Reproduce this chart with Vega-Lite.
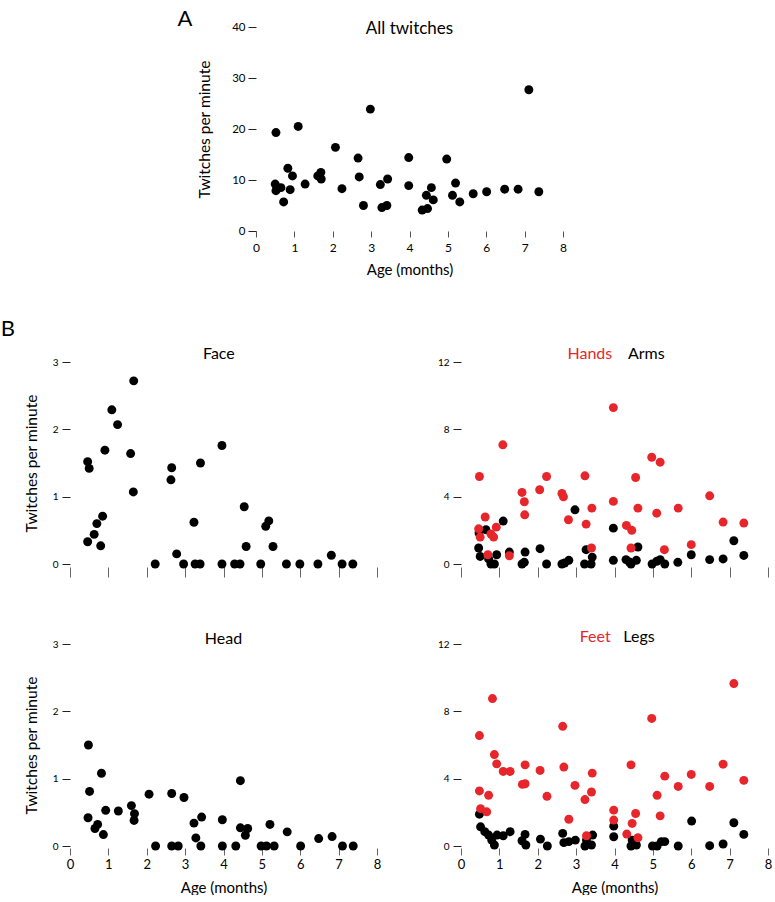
{
  "$schema": "https://vega.github.io/schema/vega-lite/v6.json",
  "padding": {"left": 0, "top": 8, "right": 0, "bottom": 0},
  "background": "white",
  "config": {
    "view": {"stroke": null},
    "font": "Lato",
    "axis": {"grid": false, "domain": false, "labelFlush": false, "labelOverlap": false, "labelColor": "#000", "titleColor": "#000", "titleFontWeight": "normal", "labelFont": "Lato", "titleFont": "Lato", "format": "d"},
    "text": {"font": "Lato", "color": "#000"}
  },
  "datasets": {
    "all": [
      {"age":0.52,"rate":19.3},{"age":0.50,"rate":9.2},{"age":0.52,"rate":7.9},{"age":0.65,"rate":8.5},{"age":0.72,"rate":5.7},{"age":0.83,"rate":12.3},{"age":0.89,"rate":8.1},{"age":0.95,"rate":10.8},{"age":1.10,"rate":20.5},{"age":1.28,"rate":9.2},{"age":1.61,"rate":10.8},{"age":1.69,"rate":11.5},{"age":1.70,"rate":10.2},{"age":2.07,"rate":16.4},{"age":2.24,"rate":8.3},{"age":2.66,"rate":14.3},{"age":2.69,"rate":10.6},{"age":2.80,"rate":5.0},{"age":2.98,"rate":23.9},{"age":3.24,"rate":9.1},{"age":3.28,"rate":4.6},{"age":3.41,"rate":5.0},{"age":3.43,"rate":10.2},{"age":3.98,"rate":14.4},{"age":3.98,"rate":8.9},{"age":4.33,"rate":4.1},{"age":4.47,"rate":4.4},{"age":4.44,"rate":7.0},{"age":4.57,"rate":8.5},{"age":4.62,"rate":6.1},{"age":4.97,"rate":14.1},{"age":5.12,"rate":7.0},{"age":5.20,"rate":9.4},{"age":5.31,"rate":5.7},{"age":5.66,"rate":7.3},{"age":6.01,"rate":7.7},{"age":6.48,"rate":8.2},{"age":6.83,"rate":8.2},{"age":7.11,"rate":27.7},{"age":7.37,"rate":7.7}
    ],
    "face": [
      {"age":0.46,"rate":1.52},{"age":0.50,"rate":1.42},{"age":0.46,"rate":0.33},{"age":0.63,"rate":0.44},{"age":0.70,"rate":0.60},{"age":0.80,"rate":0.27},{"age":0.85,"rate":0.71},{"age":0.91,"rate":1.69},{"age":1.09,"rate":2.29},{"age":1.24,"rate":2.07},{"age":1.58,"rate":1.64},{"age":1.66,"rate":2.72},{"age":1.65,"rate":1.07},{"age":2.22,"rate":0},{"age":2.63,"rate":1.25},{"age":2.65,"rate":1.43},{"age":2.78,"rate":0.15},{"age":2.96,"rate":0},{"age":3.23,"rate":0.62},{"age":3.26,"rate":0},{"age":3.39,"rate":0},{"age":3.40,"rate":1.50},{"age":3.96,"rate":1.76},{"age":3.96,"rate":0},{"age":4.29,"rate":0},{"age":4.43,"rate":0},{"age":4.54,"rate":0.85},{"age":4.59,"rate":0.26},{"age":4.97,"rate":0},{"age":5.10,"rate":0.56},{"age":5.18,"rate":0.64},{"age":5.29,"rate":0.26},{"age":5.64,"rate":0},{"age":5.99,"rate":0},{"age":6.46,"rate":0},{"age":6.81,"rate":0.13},{"age":7.09,"rate":0},{"age":7.37,"rate":0}
    ],
    "head": [
      {"age":0.48,"rate":1.50},{"age":0.51,"rate":0.81},{"age":0.47,"rate":0.42},{"age":0.65,"rate":0.26},{"age":0.72,"rate":0.32},{"age":0.82,"rate":1.08},{"age":0.87,"rate":0.17},{"age":0.93,"rate":0.53},{"age":1.26,"rate":0.52},{"age":1.60,"rate":0.60},{"age":1.68,"rate":0.48},{"age":1.67,"rate":0.38},{"age":2.06,"rate":0.77},{"age":2.23,"rate":0},{"age":2.65,"rate":0.78},{"age":2.65,"rate":0},{"age":2.82,"rate":0},{"age":2.97,"rate":0.72},{"age":3.23,"rate":0.34},{"age":3.28,"rate":0.12},{"age":3.41,"rate":0},{"age":3.43,"rate":0.43},{"age":3.97,"rate":0.39},{"age":3.97,"rate":0},{"age":4.32,"rate":0},{"age":4.44,"rate":0.97},{"age":4.44,"rate":0.27},{"age":4.57,"rate":0.16},{"age":4.63,"rate":0.26},{"age":4.98,"rate":0},{"age":5.12,"rate":0},{"age":5.21,"rate":0.32},{"age":5.32,"rate":0},{"age":5.66,"rate":0.21},{"age":6.01,"rate":0},{"age":6.48,"rate":0.11},{"age":6.83,"rate":0.14},{"age":7.10,"rate":0},{"age":7.38,"rate":0}
    ],
    "upper": [
      {"part":"Arms","age":0.46,"rate":0.95},{"part":"Arms","age":0.50,"rate":0.45},{"part":"Arms","age":0.47,"rate":1.84},{"part":"Arms","age":0.65,"rate":2.04},{"part":"Arms","age":0.72,"rate":0.30},{"part":"Arms","age":0.78,"rate":0},{"part":"Arms","age":0.87,"rate":0},{"part":"Arms","age":0.93,"rate":0.55},{"part":"Arms","age":1.10,"rate":2.55},{"part":"Arms","age":1.26,"rate":0.71},{"part":"Arms","age":1.59,"rate":0},{"part":"Arms","age":1.65,"rate":0.1},{"part":"Arms","age":1.67,"rate":0.71},{"part":"Arms","age":2.06,"rate":0.91},{"part":"Arms","age":2.23,"rate":0},{"part":"Arms","age":2.63,"rate":0},{"part":"Arms","age":2.70,"rate":0.06},{"part":"Arms","age":2.81,"rate":0.22},{"part":"Arms","age":2.97,"rate":3.22},{"part":"Arms","age":3.22,"rate":0},{"part":"Arms","age":3.26,"rate":0.85},{"part":"Arms","age":3.39,"rate":0},{"part":"Arms","age":3.42,"rate":0.41},{"part":"Arms","age":3.97,"rate":0.22},{"part":"Arms","age":3.97,"rate":2.13},{"part":"Arms","age":4.30,"rate":0.26},{"part":"Arms","age":4.39,"rate":0.12},{"part":"Arms","age":4.43,"rate":0},{"part":"Arms","age":4.57,"rate":0.22},{"part":"Arms","age":4.61,"rate":1.01},{"part":"Arms","age":4.98,"rate":0},{"part":"Arms","age":5.10,"rate":0.16},{"part":"Arms","age":5.19,"rate":0.26},{"part":"Arms","age":5.31,"rate":0},{"part":"Arms","age":5.65,"rate":0.10},{"part":"Arms","age":6.00,"rate":0.55},{"part":"Arms","age":6.48,"rate":0.26},{"part":"Arms","age":6.83,"rate":0.30},{"part":"Arms","age":7.11,"rate":1.38},{"part":"Arms","age":7.37,"rate":0.51},
      {"part":"Hands","age":0.48,"rate":5.20},{"part":"Hands","age":0.46,"rate":2.09},{"part":"Hands","age":0.50,"rate":1.60},{"part":"Hands","age":0.63,"rate":2.79},{"part":"Hands","age":0.70,"rate":0.55},{"part":"Hands","age":0.78,"rate":1.78},{"part":"Hands","age":0.85,"rate":1.60},{"part":"Hands","age":0.92,"rate":2.19},{"part":"Hands","age":1.09,"rate":7.08},{"part":"Hands","age":1.26,"rate":0.49},{"part":"Hands","age":1.59,"rate":4.25},{"part":"Hands","age":1.65,"rate":3.70},{"part":"Hands","age":1.66,"rate":2.92},{"part":"Hands","age":2.05,"rate":4.41},{"part":"Hands","age":2.23,"rate":5.20},{"part":"Hands","age":2.63,"rate":4.19},{"part":"Hands","age":2.67,"rate":3.99},{"part":"Hands","age":2.80,"rate":2.63},{"part":"Hands","age":3.23,"rate":5.24},{"part":"Hands","age":3.26,"rate":2.37},{"part":"Hands","age":3.41,"rate":3.32},{"part":"Hands","age":3.40,"rate":0.95},{"part":"Hands","age":3.97,"rate":9.29},{"part":"Hands","age":3.97,"rate":3.72},{"part":"Hands","age":4.31,"rate":2.29},{"part":"Hands","age":4.45,"rate":2.00},{"part":"Hands","age":4.43,"rate":0.95},{"part":"Hands","age":4.55,"rate":5.14},{"part":"Hands","age":4.61,"rate":3.32},{"part":"Hands","age":4.97,"rate":6.34},{"part":"Hands","age":5.19,"rate":6.05},{"part":"Hands","age":5.10,"rate":3.02},{"part":"Hands","age":5.30,"rate":0.85},{"part":"Hands","age":5.66,"rate":3.32},{"part":"Hands","age":6.00,"rate":1.15},{"part":"Hands","age":6.48,"rate":4.05},{"part":"Hands","age":6.83,"rate":2.49},{"part":"Hands","age":7.37,"rate":2.43}
    ],
    "lower": [
      {"part":"Legs","age":0.48,"rate":1.89},{"part":"Legs","age":0.51,"rate":1.14},{"part":"Legs","age":0.62,"rate":0.85},{"part":"Legs","age":0.72,"rate":0.65},{"part":"Legs","age":0.80,"rate":0.35},{"part":"Legs","age":0.87,"rate":0.06},{"part":"Legs","age":0.94,"rate":0.65},{"part":"Legs","age":1.10,"rate":0.61},{"part":"Legs","age":1.28,"rate":0.85},{"part":"Legs","age":1.59,"rate":0.31},{"part":"Legs","age":1.67,"rate":0.69},{"part":"Legs","age":1.69,"rate":0.06},{"part":"Legs","age":2.07,"rate":0.41},{"part":"Legs","age":2.25,"rate":0},{"part":"Legs","age":2.65,"rate":0.75},{"part":"Legs","age":2.68,"rate":0.20},{"part":"Legs","age":2.81,"rate":0.26},{"part":"Legs","age":2.98,"rate":0.35},{"part":"Legs","age":3.23,"rate":0},{"part":"Legs","age":3.27,"rate":0.35},{"part":"Legs","age":3.40,"rate":0.06},{"part":"Legs","age":3.43,"rate":0.65},{"part":"Legs","age":3.98,"rate":1.18},{"part":"Legs","age":3.98,"rate":0.55},{"part":"Legs","age":4.43,"rate":0},{"part":"Legs","age":4.46,"rate":0.35},{"part":"Legs","age":4.57,"rate":0.06},{"part":"Legs","age":4.99,"rate":0},{"part":"Legs","age":5.11,"rate":0},{"part":"Legs","age":5.22,"rate":0.26},{"part":"Legs","age":5.31,"rate":0.26},{"part":"Legs","age":5.66,"rate":0},{"part":"Legs","age":6.01,"rate":1.48},{"part":"Legs","age":6.48,"rate":0.02},{"part":"Legs","age":6.83,"rate":0.12},{"part":"Legs","age":7.11,"rate":1.38},{"part":"Legs","age":7.37,"rate":0.69},
      {"part":"Feet","age":0.48,"rate":6.56},{"part":"Feet","age":0.51,"rate":2.22},{"part":"Feet","age":0.48,"rate":3.27},{"part":"Feet","age":0.67,"rate":2.03},{"part":"Feet","age":0.72,"rate":3.01},{"part":"Feet","age":0.82,"rate":8.76},{"part":"Feet","age":0.87,"rate":5.43},{"part":"Feet","age":0.93,"rate":4.88},{"part":"Feet","age":1.10,"rate":4.43},{"part":"Feet","age":1.28,"rate":4.43},{"part":"Feet","age":1.60,"rate":3.66},{"part":"Feet","age":1.67,"rate":3.70},{"part":"Feet","age":1.67,"rate":4.82},{"part":"Feet","age":2.06,"rate":4.49},{"part":"Feet","age":2.24,"rate":2.95},{"part":"Feet","age":2.65,"rate":7.11},{"part":"Feet","age":2.68,"rate":4.69},{"part":"Feet","age":2.81,"rate":1.59},{"part":"Feet","age":2.97,"rate":3.60},{"part":"Feet","age":3.23,"rate":2.76},{"part":"Feet","age":3.27,"rate":0.61},{"part":"Feet","age":3.40,"rate":3.21},{"part":"Feet","age":3.42,"rate":4.33},{"part":"Feet","age":3.98,"rate":2.13},{"part":"Feet","age":3.98,"rate":1.54},{"part":"Feet","age":4.32,"rate":0.71},{"part":"Feet","age":4.43,"rate":4.82},{"part":"Feet","age":4.46,"rate":1.34},{"part":"Feet","age":4.55,"rate":1.93},{"part":"Feet","age":4.61,"rate":0.49},{"part":"Feet","age":4.97,"rate":7.58},{"part":"Feet","age":5.11,"rate":3.01},{"part":"Feet","age":5.19,"rate":1.79},{"part":"Feet","age":5.31,"rate":4.15},{"part":"Feet","age":5.66,"rate":3.54},{"part":"Feet","age":6.00,"rate":4.25},{"part":"Feet","age":6.48,"rate":3.54},{"part":"Feet","age":6.83,"rate":4.86},{"part":"Feet","age":7.11,"rate":9.65},{"part":"Feet","age":7.37,"rate":3.90}
    ]
  },
  "spacing": 41,
  "vconcat": [
    {
      "spacing": 0,
      "hconcat": [
        {"width": 107, "height": 10, "data": {"values": [{}]}, "mark": {"type": "point", "opacity": 0}, "encoding": {}},
        {
          "width": 307, "height": 204,
          "layer": [
            {
              "data": {"name": "all"},
              "mark": {"type": "circle", "size": 80, "opacity": 1, "color": "#000"},
              "encoding": {
                "x": {"field": "age", "type": "quantitative", "scale": {"domain": [0, 8], "nice": false, "zero": false},
                      "axis": {"values": [0,1,2,3,4,5,6,7,8], "tickCount": 9, "labelOverlap": false, "tickSize": 6, "tickColor": "#555", "labelFontSize": 12, "labelPadding": 5, "title": "Age (months)", "titleFontSize": 15, "titlePadding": 9}},
                "y": {"field": "rate", "type": "quantitative", "scale": {"domain": [0, 40], "nice": false},
                      "axis": {"values": [0,10,20,30,40], "labelOverlap": false, "tickSize": 8, "tickColor": "#222", "labelFontSize": 11.5, "labelPadding": 3, "title": "Twitches per minute", "titleFontSize": 15.5, "titlePadding": 19}}
              }
            },
            {"data": {"values": [{}]}, "mark": {"type": "text", "text": "All twitches", "fontSize": 17, "align": "center", "baseline": "alphabetic"}, "encoding": {"x": {"datum": 4}, "y": {"datum": 38.6}}},
            {"data": {"values": [{}]}, "mark": {"type": "text", "text": "A", "fontSize": 22, "align": "center", "baseline": "alphabetic"}, "encoding": {"x": {"datum": -1.85}, "y": {"datum": 40.1}}}
          ]
        }
      ]
    },
    {
      "columns": 2,
      "spacing": {"row": 51, "column": 56},
      "concat": [
        {
          "width": 307, "height": 202,
          "layer": [
            {
              "data": {"name": "face"},
              "mark": {"type": "circle", "size": 80, "opacity": 1, "color": "#000"},
              "encoding": {
                "x": {"field": "age", "type": "quantitative", "scale": {"domain": [0, 8], "nice": false, "zero": false},
                      "axis": {"values": [0,1,2,3,4,5,6,7,8], "tickCount": 9, "labels": false, "title": null, "tickSize": 10, "offset": 3, "tickColor": "#666"}},
                "y": {"field": "rate", "type": "quantitative", "scale": {"domain": [0, 3], "nice": false},
                      "axis": {"values": [0,1,2,3], "labelOverlap": false, "tickSize": 8, "tickColor": "#222", "labelFontSize": 10, "labelPadding": 4, "title": "Twitches per minute", "titleFontSize": 15.5, "titlePadding": 13}}
              }
            },
            {"data": {"values": [{}]}, "mark": {"type": "text", "text": "Face", "fontSize": 16, "align": "center", "baseline": "alphabetic"}, "encoding": {"x": {"datum": 3.88}, "y": {"datum": 3.04}}},
            {"data": {"values": [{}]}, "mark": {"type": "text", "text": "B", "fontSize": 22, "align": "center", "baseline": "alphabetic"}, "encoding": {"x": {"datum": -1.62}, "y": {"datum": 3.38}}}
          ]
        },
        {
          "width": 307, "height": 202,
          "layer": [
            {
              "data": {"name": "upper"},
              "mark": {"type": "circle", "size": 80, "opacity": 1},
              "encoding": {
                "x": {"field": "age", "type": "quantitative", "scale": {"domain": [0, 8], "nice": false, "zero": false},
                      "axis": {"values": [0,1,2,3,4,5,6,7,8], "tickCount": 9, "labels": false, "title": null, "tickSize": 10, "offset": 3, "tickColor": "#666"}},
                "y": {"field": "rate", "type": "quantitative", "scale": {"domain": [0, 12], "nice": false},
                      "axis": {"values": [0,4,8,12], "labelOverlap": false, "tickSize": 8, "tickColor": "#222", "labelFontSize": 10, "labelPadding": 4, "title": null}},
                "color": {"field": "part", "type": "nominal", "scale": {"domain": ["Arms", "Hands"], "range": ["#000000", "#e6262b"]}, "legend": null}
              }
            },
            {"data": {"values": [{}]}, "mark": {"type": "text", "text": "Hands", "fontSize": 16, "align": "right", "baseline": "alphabetic", "color": "#e6262b"}, "encoding": {"x": {"datum": 3.94}, "y": {"datum": 12.16}}},
            {"data": {"values": [{}]}, "mark": {"type": "text", "text": "Arms", "fontSize": 16, "align": "left", "baseline": "alphabetic"}, "encoding": {"x": {"datum": 4.35}, "y": {"datum": 12.16}}}
          ]
        },
        {
          "width": 307, "height": 202,
          "layer": [
            {
              "data": {"name": "head"},
              "mark": {"type": "circle", "size": 80, "opacity": 1, "color": "#000"},
              "encoding": {
                "x": {"field": "age", "type": "quantitative", "scale": {"domain": [0, 8], "nice": false, "zero": false},
                      "axis": {"values": [0,1,2,3,4,5,6,7,8], "tickCount": 9, "labelOverlap": false, "tickSize": 7, "offset": 2, "tickColor": "#666", "labelFontSize": 13, "labelPadding": 3, "title": "Age (months)", "titleFontSize": 15, "titlePadding": 9}},
                "y": {"field": "rate", "type": "quantitative", "scale": {"domain": [0, 3], "nice": false},
                      "axis": {"values": [0,1,2,3], "labelOverlap": false, "tickSize": 8, "tickColor": "#222", "labelFontSize": 10, "labelPadding": 4, "title": "Twitches per minute", "titleFontSize": 15.5, "titlePadding": 13}}
              }
            },
            {"data": {"values": [{}]}, "mark": {"type": "text", "text": "Head", "fontSize": 16, "align": "center", "baseline": "alphabetic"}, "encoding": {"x": {"datum": 4.0}, "y": {"datum": 3.0}}}
          ]
        },
        {
          "width": 307, "height": 202,
          "layer": [
            {
              "data": {"name": "lower"},
              "mark": {"type": "circle", "size": 80, "opacity": 1},
              "encoding": {
                "x": {"field": "age", "type": "quantitative", "scale": {"domain": [0, 8], "nice": false, "zero": false},
                      "axis": {"values": [0,1,2,3,4,5,6,7,8], "tickCount": 9, "labelOverlap": false, "tickSize": 7, "offset": 2, "tickColor": "#666", "labelFontSize": 13, "labelPadding": 3, "title": "Age (months)", "titleFontSize": 15, "titlePadding": 9}},
                "y": {"field": "rate", "type": "quantitative", "scale": {"domain": [0, 12], "nice": false},
                      "axis": {"values": [0,4,8,12], "labelOverlap": false, "tickSize": 8, "tickColor": "#222", "labelFontSize": 10, "labelPadding": 4, "title": null}},
                "color": {"field": "part", "type": "nominal", "scale": {"domain": ["Legs", "Feet"], "range": ["#000000", "#e6262b"]}, "legend": null}
              }
            },
            {"data": {"values": [{}]}, "mark": {"type": "text", "text": "Feet", "fontSize": 16, "align": "right", "baseline": "alphabetic", "color": "#e6262b"}, "encoding": {"x": {"datum": 3.9}, "y": {"datum": 12.1}}},
            {"data": {"values": [{}]}, "mark": {"type": "text", "text": "Legs", "fontSize": 16, "align": "left", "baseline": "alphabetic"}, "encoding": {"x": {"datum": 4.23}, "y": {"datum": 12.1}}}
          ]
        }
      ]
    }
  ]
}
